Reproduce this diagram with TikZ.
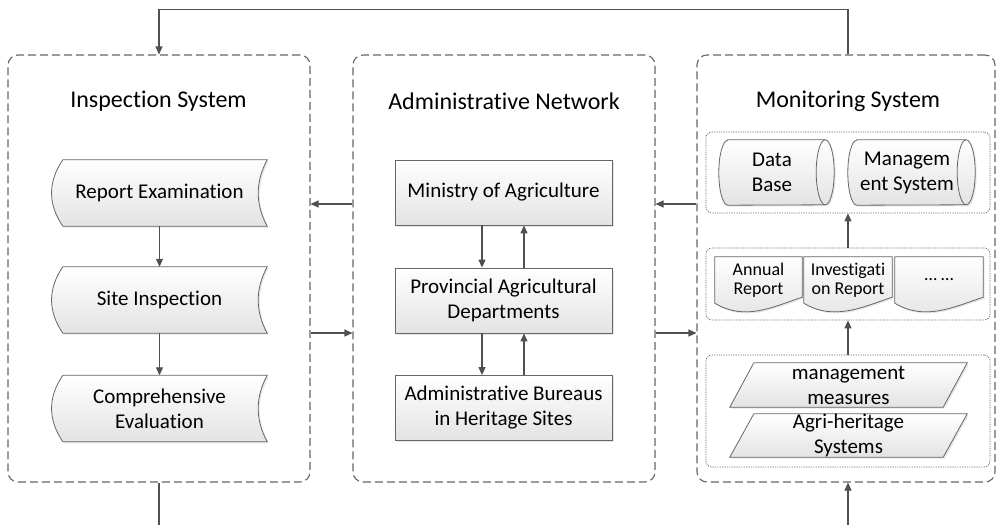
\documentclass[tikz,border=0pt]{standalone}
\usepackage{fontspec}
\setmainfont{Carlito}[Ligatures={NoCommon,NoRequired,NoContextual}]
\usetikzlibrary{arrows.meta,shadows,backgrounds,calc}
\definecolor{lnc}{HTML}{505050}
\tikzset{
  outer/.style={draw=black!60, line width=1.1pt, dash pattern=on 8pt off 4pt, rounded corners=10pt, inner sep=0pt},
  inbox/.style={draw=black!60, line width=0.7pt, dash pattern=on 1.2pt off 1.2pt, rounded corners=6pt, minimum width=284pt, inner sep=0pt},
  title/.style={inner sep=0pt, font=\fontsize{24}{28}\selectfont},
  txt/.style={inner sep=0pt, align=center, font=\fontsize{21}{25}\selectfont},
  doctxt/.style={inner sep=0pt, align=center, font=\fontsize{18}{19}\selectfont},
  shapefill/.style={draw=black!60, line width=0.8pt, top color=white, bottom color=black!11,
     drop shadow={shadow xshift=1.5pt, shadow yshift=-1.5pt, opacity=0.2, fill=black!50}},
  shapeline/.style={draw=black!60, line width=0.8pt},
  box/.style={txt, shapefill, minimum width=217pt, minimum height=65pt},
  conn/.style={draw=lnc, line width=1.1pt},
  arr/.style={conn, -{Triangle[length=8pt,width=7pt]}},
}
\newcommand\mystoredshape[1]{%
  \path[shapefill] ([xshift=11pt]#1.north west) -- (#1.north east)
    .. controls +(-12,22) and +(-12,-22) .. (#1.south east)
    -- ([xshift=11pt]#1.south west)
    .. controls +(-15,-22) and +(-15,22) .. ([xshift=11pt]#1.north west) -- cycle;}
\newcommand\mycylshape[1]{%
  \path[shapefill] ([xshift=9pt]#1.north west) -- (#1.north east)
    arc[start angle=90,end angle=-90,x radius=9pt,y radius=32.5pt]
    -- ([xshift=9pt]#1.south west)
    arc[start angle=270,end angle=90,x radius=9pt,y radius=32.5pt] -- cycle;
  \draw[shapeline] (#1.north east)
    arc[start angle=90,end angle=270,x radius=9pt,y radius=32.5pt];}
\newcommand\mydocshape[1]{%
  \path[shapefill] (#1.north west) -- (#1.north east) -- ([yshift=6pt]#1.south east)
    .. controls +(-30,10) and +(30,18) .. (#1.south west) -- cycle;}
\newcommand\myparashape[1]{%
  \path[shapefill] ([xshift=24pt]#1.north west) -- (#1.north east)
    -- ([xshift=-24pt]#1.south east) -- (#1.south west) -- cycle;}
\begin{document}
\begin{tikzpicture}[x=1pt,y=-1pt]
\useasboundingbox (0,0) rectangle (997,525);
% outer boxes
\node[outer, minimum width=302pt, minimum height=427pt] (L) at (159,268.5) {};
\node[outer, minimum width=302pt, minimum height=427pt] (M) at (504,268.5) {};
\node[outer, minimum width=298pt, minimum height=427pt] (R) at (846,268.5) {};
% titles
\node[title] (tL) at (158.5,101) {Inspection System};
\node[title] (tM) at (504,101) {Administrative Network};
\node[title] (tR) at (848,101) {Monitoring System};
% left column
\node[txt, minimum width=215pt, minimum height=66pt] (RE) at (159.5,193) {Report Examination};
\node[txt, minimum width=215pt, minimum height=66pt] (SI) at (159.5,300) {Site Inspection};
\node[txt, minimum width=215pt, minimum height=66pt] (CE) at (159.5,408.5) {Comprehensive\\Evaluation};
% middle column
\node[box] (MA) at (503.5,192.5) {Ministry of Agriculture};
\node[box] (PA) at (503.5,300.5) {Provincial Agricultural\\Departments};
\node[box] (AB) at (503.5,408) {Administrative Bureaus\\in Heritage Sites};
% right column inner boxes
\node[inbox, minimum height=81pt] (I1) at (848,172.5) {};
\node[inbox, minimum height=72pt] (I2) at (848,284) {};
\node[inbox, minimum height=112pt] (I3) at (848,411) {};
\node[txt, minimum width=106pt, minimum height=65pt] (DB) at (772,172.5) {Data\\Base};
\node[txt, minimum width=118pt, minimum height=65pt] (MS) at (907,172.5) {Managem\\ent System};
\node[doctxt, minimum width=87pt, minimum height=46pt] (AR) at (758.5,280) {Annual\\Report};
\node[doctxt, minimum width=88pt, minimum height=46pt] (IR) at (848,280) {Investigati\\on Report};
\node[doctxt, minimum width=88pt, minimum height=46pt] (DD) at (939,280) {\dots\ \dots};
\node[txt, minimum width=237pt, minimum height=44pt] (MM) at (848.5,385) {management\\measures};
\node[txt, minimum width=237pt, minimum height=43pt] (AH) at (848.5,435.5) {Agri-heritage\\Systems};
\begin{scope}[on background layer]
  \mystoredshape{RE}\mystoredshape{SI}\mystoredshape{CE}
  \mycylshape{DB}\mycylshape{MS}
  \mydocshape{AR}\mydocshape{IR}\mydocshape{DD}
  \myparashape{MM}\myparashape{AH}
\end{scope}
% connectors
\draw[arr] (RE.south) -- (SI.north);
\draw[arr] (SI.south) -- (CE.north);
\draw[arr] ([xshift=-21.5pt]MA.south) -- ([xshift=-21.5pt]PA.north);
\draw[arr] ([xshift=20.5pt]PA.north) -- ([xshift=20.5pt]MA.south);
\draw[arr] ([xshift=-21.5pt]PA.south) -- ([xshift=-21.5pt]AB.north);
\draw[arr] ([xshift=20.5pt]AB.north) -- ([xshift=20.5pt]PA.south);
\draw[arr] (I2.north) -- (I1.south);
\draw[arr] (I3.north) -- (I2.south);
\draw[arr] (M.west |- 0,204) -- (L.east |- 0,204);
\draw[arr] (L.east |- 0,333) -- (M.west |- 0,333);
\draw[arr] (R.west |- 0,204) -- (M.east |- 0,204);
\draw[arr] (M.east |- 0,333) -- (R.west |- 0,333);
\draw[arr] ([xshift=2pt]R.north) -- ++(0,-45) -| (L.north);
\coordinate (b1) at (159,527);
\coordinate (b2) at (848,527);
\draw[conn] (L.south) -- (b1);
\draw[arr] (b2) -- (b2 |- R.south);
\end{tikzpicture}
\end{document}
